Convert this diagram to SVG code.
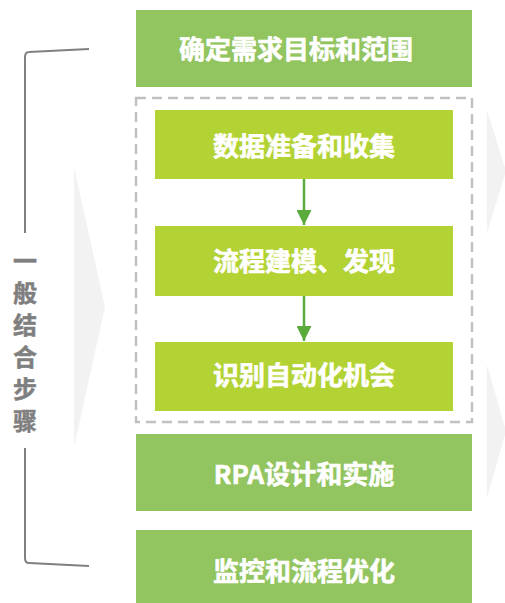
<svg xmlns="http://www.w3.org/2000/svg" width="505" height="603" viewBox="0 0 505 603">
<style>
.bg{fill:#F2F2F2}
.outer{fill:#92C45F}
.inner{fill:#B3D234}
.lbl{font-family:"Noto Sans CJK SC","Noto Sans",sans-serif;font-weight:bold;font-size:26px;fill:#FFFFFF;stroke:#FFFFFF;stroke-width:0.6;text-anchor:middle}
.side{font-family:"Noto Sans CJK SC","Noto Sans",sans-serif;font-weight:bold;font-size:24px;fill:#7F7F7F;stroke:#7F7F7F;stroke-width:0.5;text-anchor:middle}
.br{fill:none;stroke:#808080;stroke-width:2}
.conn{stroke:#5AAB3C;stroke-width:2.5;fill:none}
</style>
<defs>
<marker id="ah" viewBox="0 0 10 10" refX="10" refY="5" markerWidth="6" markerHeight="6" markerUnits="strokeWidth" orient="auto">
<path d="M0,0 L10,5 L0,10 Z" fill="#5AAB3C"/>
</marker>
</defs>
<g id="background">
<polygon class="bg" points="74,167 105,307 74,447"/>
<polygon class="bg" points="487,110 506,171 487,233"/>
<polygon class="bg" points="487,365 506,431 487,498"/>
</g>
<g id="bracket">
<path class="br" d="M89,49 L29,52 Q25,52 25,57 L25,233"/>
<path class="br" d="M25,448 L25,558 Q25,563 29,563 L89,566"/>
<text class="side"><tspan x="25" y="270">一</tspan><tspan x="25" y="302">般</tspan><tspan x="25" y="334">结</tspan><tspan x="25" y="366">合</tspan><tspan x="25" y="398">步</tspan><tspan x="25" y="430">骤</tspan></text>
</g>
<g id="group-box">
<rect x="136" y="98" width="336" height="324" fill="none" stroke="#C0C0C0" stroke-width="2.4" stroke-dasharray="10 6"/>
</g>
<g id="n1">
<rect class="outer" x="136" y="10" width="336" height="77"/>
<text class="lbl" x="296" y="59">确定需求目标和范围</text>
</g>
<g id="n2">
<rect class="inner" x="155" y="110" width="298" height="69"/>
<text class="lbl" x="304" y="156">数据准备和收集</text>
</g>
<g id="n3">
<rect class="inner" x="155" y="226" width="298" height="70"/>
<text class="lbl" x="304" y="271">流程建模、发现</text>
</g>
<g id="n4">
<rect class="inner" x="155" y="342" width="298" height="69"/>
<text class="lbl" x="304" y="385">识别自动化机会</text>
</g>
<g id="n5">
<rect class="outer" x="136" y="434" width="336" height="77"/>
<text class="lbl" x="304" y="484">RPA设计和实施</text>
</g>
<g id="n6">
<rect class="outer" x="136" y="530" width="336" height="73"/>
<text class="lbl" x="304" y="581">监控和流程优化</text>
</g>
<g id="connectors">
<line class="conn" x1="304" y1="179" x2="304" y2="225" marker-end="url(#ah)"/>
<line class="conn" x1="304" y1="296" x2="304" y2="341" marker-end="url(#ah)"/>
</g>
</svg>
